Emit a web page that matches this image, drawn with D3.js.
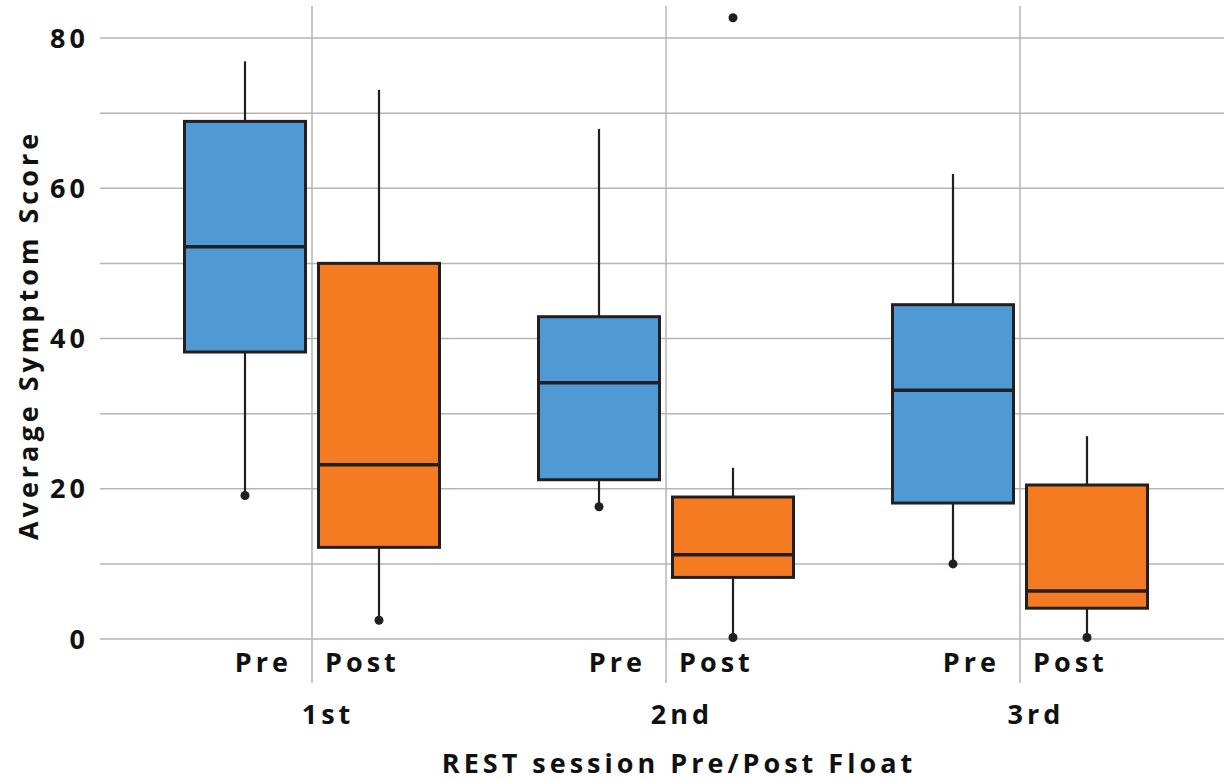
<!DOCTYPE html>
<html>
<head>
<meta charset="utf-8">
<script src="https://cdn.jsdelivr.net/npm/d3@7"></script>
<style>
  html, body { margin: 0; padding: 0; background: #fff; }
  svg text { font-family: "Open Sans", "Noto Sans", sans-serif; font-weight: 700; fill: #111; font-size: 27px; letter-spacing: 4px; }
</style>
</head>
<body>
<div id="chart"></div>
<script>
const sessions = ["1st", "2nd", "3rd"];
const phases = ["Pre", "Post"];
const yTicks = [0, 20, 40, 60, 80];

// one entry per session x phase, in order 1st Pre, 1st Post, 2nd Pre, ...
const whiskerLow  = [19.1, 2.5, 17.6, 0.2, 10.0, 0.2];
const q1          = [38.2, 12.2, 21.2, 8.2, 18.1, 4.1];
const median      = [52.2, 23.2, 34.1, 11.2, 33.1, 6.4];
const q3          = [68.9, 50.0, 42.9, 18.9, 44.5, 20.5];
const whiskerHigh = [76.9, 73.1, 67.9, 22.8, 61.9, 27.0];
const outlierSession = ["2nd"];
const outlierPhase = ["Post"];
const outlierValue = [82.7];

const boxes = [];
sessions.forEach((s, i) => phases.forEach((p, j) => {
  const k = i * 2 + j;
  boxes.push({ session: s, phase: p, lo: whiskerLow[k], q1: q1[k], med: median[k], q3: q3[k], hi: whiskerHigh[k] });
}));

const width = 1224, height = 780;
const svg = d3.select("#chart").append("svg")
    .attr("width", width)
    .attr("height", height);

const y = d3.scaleLinear().domain([0, 80]).range([639, 38]);
const x = d3.scalePoint().domain(sessions).range([312, 1020]);
const xi = d3.scaleBand().domain(phases).range([-127.5, 127.5]).paddingInner(0.097);

const color = d3.scaleOrdinal().domain(phases).range(["#4f9ad4", "#f47b22"]);
const ink = "#231f20";

// horizontal grid
svg.append("g")
  .selectAll("line")
  .data(d3.range(0, 81, 10))
  .join("line")
    .attr("x1", 100).attr("x2", width)
    .attr("y1", d => y(d)).attr("y2", d => y(d))
    .attr("stroke", "#b5b5b5").attr("stroke-width", 1.5);

// vertical grid at session centres
svg.append("g")
  .selectAll("line")
  .data(sessions)
  .join("line")
    .attr("x1", d => x(d)).attr("x2", d => x(d))
    .attr("y1", 6).attr("y2", 683)
    .attr("stroke", "#b5b5b5").attr("stroke-width", 1.5);

// y tick labels
svg.append("g")
  .selectAll("text")
  .data(yTicks)
  .join("text")
    .attr("x", 89)
    .attr("y", d => y(d))
    .attr("dy", "0.36em")
    .attr("text-anchor", "end")
    .text(d => d);

const g = svg.append("g");
const bx = d => x(d.session) + xi(d.phase);
const bw = xi.bandwidth();

// whiskers
g.selectAll(".wh-hi")
  .data(boxes)
  .join("line")
    .attr("x1", d => bx(d) + bw / 2).attr("x2", d => bx(d) + bw / 2)
    .attr("y1", d => y(d.q3)).attr("y2", d => y(d.hi))
    .attr("stroke", ink).attr("stroke-width", 2.2);

g.selectAll(".wh-lo")
  .data(boxes)
  .join("line")
    .attr("x1", d => bx(d) + bw / 2).attr("x2", d => bx(d) + bw / 2)
    .attr("y1", d => y(d.q1)).attr("y2", d => y(d.lo))
    .attr("stroke", ink).attr("stroke-width", 2.2);

g.selectAll(".dot-lo")
  .data(boxes)
  .join("circle")
    .attr("cx", d => bx(d) + bw / 2)
    .attr("cy", d => y(d.lo))
    .attr("r", 4.5)
    .attr("fill", ink);

// boxes
g.selectAll("rect")
  .data(boxes)
  .join("rect")
    .attr("x", d => bx(d))
    .attr("width", bw)
    .attr("y", d => y(d.q3))
    .attr("height", d => y(d.q1) - y(d.q3))
    .attr("fill", d => color(d.phase))
    .attr("stroke", ink)
    .attr("stroke-width", 3);

// medians
g.selectAll(".med")
  .data(boxes)
  .join("line")
    .attr("x1", d => bx(d)).attr("x2", d => bx(d) + bw)
    .attr("y1", d => y(d.med)).attr("y2", d => y(d.med))
    .attr("stroke", ink).attr("stroke-width", 3.5);

// outliers
g.selectAll(".out")
  .data(outlierValue.map((v, i) => ({ session: outlierSession[i], phase: outlierPhase[i], v })))
  .join("circle")
    .attr("cx", d => x(d.session) + xi(d.phase) + bw / 2)
    .attr("cy", d => y(d.v))
    .attr("r", 4.5)
    .attr("fill", ink);

// phase labels
const phaseLabels = [];
sessions.forEach(s => phases.forEach(p => phaseLabels.push({ s, p })));
svg.append("g")
  .selectAll("text")
  .data(phaseLabels)
  .join("text")
    .attr("x", d => d.p === "Pre" ? x(d.s) - 20 : x(d.s) + 13)
    .attr("y", 672)
    .attr("text-anchor", d => d.p === "Pre" ? "end" : "start")
    .text(d => d.p);

// session labels
svg.append("g")
  .selectAll("text")
  .data(sessions)
  .join("text")
    .attr("x", d => x(d) + 16)
    .attr("y", 724)
    .attr("text-anchor", "middle")
    .text(d => d);

// axis titles
svg.append("text")
  .attr("x", 679)
  .attr("y", 773)
  .attr("text-anchor", "middle")
  .text("REST session Pre/Post Float");

svg.append("text")
  .attr("transform", "translate(38,335) rotate(-90)")
  .attr("text-anchor", "middle")
  .text("Average Symptom Score");
</script>
</body>
</html>
